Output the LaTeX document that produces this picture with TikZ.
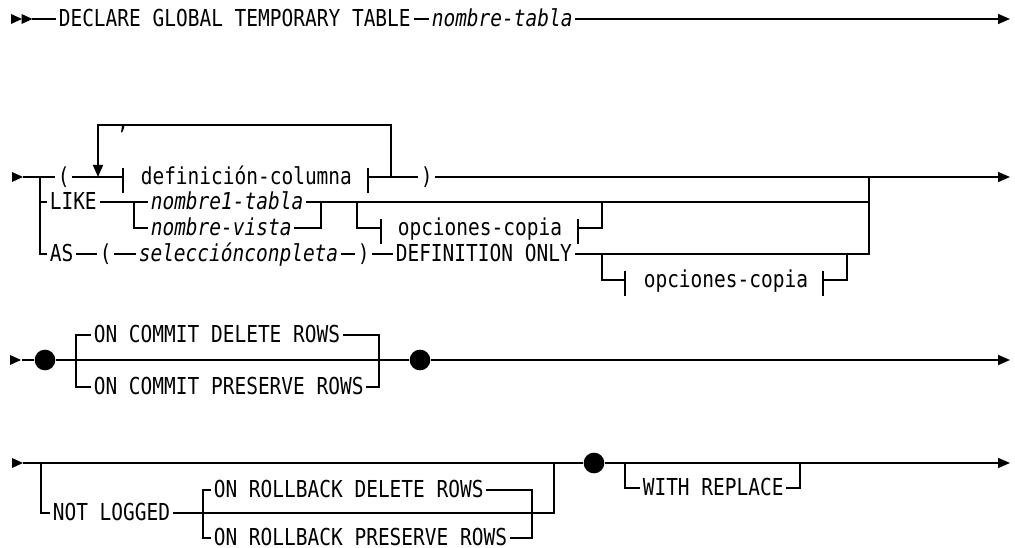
\documentclass[tikz,border=0pt]{standalone}
\usepackage{fontspec}
\newfontfamily\railfont[FakeStretch=0.835]{DejaVu Sans Mono}
\usetikzlibrary{arrows.meta}

% start-of-line marker
\newcommand\railhead[2]{\fill (#1,#2-5) -- (#1+11,#2) -- (#1,#2+5) -- cycle;}
% fragment bar
\newcommand\fragbar[2]{\draw (#1,#2-9) -- (#1,#2+16);}

\tikzset{
  kw/.style={font=\fontsize{17.5}{20}\railfont, inner xsep=1.5pt, inner ysep=0pt,
    text height=12.5pt, text depth=1.5pt, anchor=west},
  var/.style={kw, font=\fontsize{17.5}{20}\railfont\itshape},
  dot/.style={circle, fill, inner sep=0pt, minimum size=15.5pt},
}

\begin{document}
\begin{tikzpicture}[x=0.75pt, y=-0.75pt, line width=1.2pt,
  >={Triangle[length=9pt,width=7.5pt]}]
  \useasboundingbox (0,0) rectangle (1015,548);

  %% Row 1: statement head
  \def\Ya{19}
  \railhead{11}{\Ya}
  \railhead{21.5}{\Ya}
  \coordinate (a0) at (32,\Ya);
  \node[kw] (dcl) at (56,\Ya) {DECLARE GLOBAL TEMPORARY TABLE};
  \node[var] (tbl) at (429,\Ya) {nombre-tabla};
  \draw (a0) -- (dcl.west);
  \draw (dcl.east) -- (tbl.west);
  \draw[->] (tbl.east) -- (1010,\Ya);

  %% Row 2: column list / LIKE / AS
  \def\Yb{177}  % main line
  \def\Yl{202}  % LIKE
  \def\Yv{228}  % nombre-vista, opciones-copia
  \def\Ys{254}  % AS
  \def\Yo{280}  % second opciones-copia
  \railhead{12}{\Yb}
  \coordinate (b0) at (23,\Yb);
  \coordinate (b1) at (40,\Yb);
  \node[kw] (lpar) at (55,\Yb) {(};
  \node[kw] (dc) at (138,\Yb) {definición-columna};
  \node[kw] (rpar) at (418,\Yb) {)};
  \node[kw, anchor=center] (comma) at (123,122) {,};
  \draw (b0) -- (lpar.west);
  \draw (lpar.east) -- (123,\Yb);
  \fragbar{123}{\Yb}
  \fragbar{368}{\Yb}
  \draw (368,\Yb) -- (rpar.west);
  \draw[->] (rpar.east) -- (1010,\Yb);
  % repeat loop
  \draw[->] (391,\Yb) |- (98,125) -- (98,\Yb);

  % LIKE branch
  \node[kw] (like) at (47,\Yl) {LIKE};
  \node[var] (nt) at (148,\Yl) {nombre1-tabla};
  \node[var] (nv) at (148,\Yv) {nombre-vista};
  \draw (b1) |- (like.west);
  \draw (like.east) -- (nt.west);
  \draw (134,\Yl) |- (nv.west);
  \draw (nv.east) -| (321,\Yl);
  \draw (nt.east) -- (869,\Yl);
  \node[kw] (oca) at (395,\Yv) {opciones-copia};
  \draw (357,\Yl) |- (381,\Yv);
  \fragbar{381}{\Yv}
  \fragbar{578}{\Yv}
  \draw (578,\Yv) -| (602,\Yl);

  % AS branch
  \node[kw] (as) at (47,\Ys) {AS};
  \node[kw] (lpb) at (97,\Ys) {(};
  \node[var] (sc) at (136,\Ys) {selecciónconpleta};
  \node[kw] (rpb) at (355,\Ys) {)};
  \node[kw] (don) at (393,\Ys) {DEFINITION ONLY};
  \draw (b1) |- (as.west);
  \draw (as.east) -- (lpb.west);
  \draw (lpb.east) -- (sc.west);
  \draw (sc.east) -- (rpb.west);
  \draw (rpb.east) -- (don.west);
  \draw (don.east) -| (869,\Yb);
  \node[kw] (ocb) at (641,\Yo) {opciones-copia};
  \draw (602,\Ys) |- (625,\Yo);
  \fragbar{625}{\Yo}
  \fragbar{823}{\Yo}
  \draw (823,\Yo) -| (847,\Ys);

  %% Row 3: ON COMMIT
  \def\Yc{360}
  \def\Yt{335}
  \def\Yp{387}
  \railhead{10}{\Yc}
  \coordinate (c0) at (22,\Yc);
  \node[dot] (dotA) at (45,\Yc) {};
  \node[dot] (dotB) at (420,\Yc) {};
  \node[kw] (ocd) at (91,\Yt) {ON COMMIT DELETE ROWS};
  \node[kw] (ocp) at (91,\Yp) {ON COMMIT PRESERVE ROWS};
  \draw (c0) -- (dotA) -- (dotB);
  \draw[->] (dotB) -- (1010,\Yc);
  \draw (ocd.west) -| (76,\Yp) -- (ocp.west);
  \draw (ocd.east) -| (379,\Yp) -- (ocp.east);

  %% Row 4: NOT LOGGED / WITH REPLACE
  \def\Yd{463}
  \def\Yn{513}
  \def\Yr{490}
  \def\Yq{538}
  \def\Yw{488}
  \railhead{12}{\Yd}
  \coordinate (d0) at (23,\Yd);
  \node[dot] (dotC) at (594,\Yd) {};
  \draw (d0) -- (dotC);
  \draw[->] (dotC) -- (1010,\Yd);
  \node[kw] (nl) at (50,\Yn) {NOT LOGGED};
  \draw (41,\Yd) |- (nl.west);
  \draw (nl.east) -| (554,\Yd);
  \node[kw] (ord) at (211,\Yr) {ON ROLLBACK DELETE ROWS};
  \node[kw] (orp) at (211,\Yq) {ON ROLLBACK PRESERVE ROWS};
  \draw (ord.west) -| (203,\Yq) -- (orp.west);
  \draw (ord.east) -| (532,\Yq) -- (orp.east);
  \node[kw] (wr) at (640,\Yw) {WITH REPLACE};
  \draw (625,\Yd) |- (wr.west);
  \draw (wr.east) -| (800,\Yd);
\end{tikzpicture}
\end{document}
